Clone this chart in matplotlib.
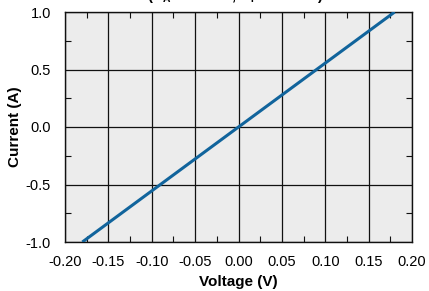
import matplotlib
matplotlib.use("Agg")
import matplotlib.pyplot as plt
from matplotlib.ticker import MultipleLocator, FormatStrFormatter

# data
voltage = [-0.18, 0.18]
current = [-1.0, 1.0]
x_ticks = [-0.20, -0.15, -0.10, -0.05, 0.00, 0.05, 0.10, 0.15, 0.20]
y_ticks = [-1.0, -0.5, 0.0, 0.5, 1.0]

plt.rcParams['font.family'] = ['Liberation Sans', 'DejaVu Sans']
plt.rcParams['mathtext.default'] = 'regular'

fig = plt.figure(figsize=(4.29, 2.91), dpi=100)
ax = fig.add_axes([65/429, 1 - 242/291, (412 - 65)/429, (242 - 12)/291])
ax.set_facecolor('#ececec')

ax.plot(voltage, current, color='#11649c', lw=2.2, solid_capstyle='butt', zorder=3)

ax.set_xlim(-0.20, 0.20)
ax.set_ylim(-1.0, 1.0)
ax.set_xticks(x_ticks)
ax.set_yticks(y_ticks)
ax.xaxis.set_major_formatter(FormatStrFormatter('%.2f'))
ax.yaxis.set_major_formatter(FormatStrFormatter('%.1f'))
ax.xaxis.set_minor_locator(MultipleLocator(0.025))
ax.yaxis.set_minor_locator(MultipleLocator(0.25))
ax.grid(True, which='major', color='#111111', lw=0.9)
ax.tick_params(which='both', direction='in', top=True, right=True, labelsize=10.5, color='#111111')
ax.tick_params(axis='x', which='major', length=0, pad=9)
ax.tick_params(axis='y', which='major', length=0, pad=10)
ax.tick_params(which='minor', length=4, width=0.8)
for s in ax.spines.values():
    s.set_color('#111111')
    s.set_linewidth(1.0)

ax.set_xlabel('Voltage (V)', fontsize=11, fontweight='bold', labelpad=5)
ax.set_ylabel('Current (A)', fontsize=11, fontweight='bold', labelpad=3)

# title is clipped by the top edge in the reference
fig.text(235/429, 1.0, r'(R$_A$ = 0.18 Ω, R$_F$ = 0.18 Ω)', ha='center', va='baseline',
         fontsize=10.5, fontweight='bold')

fig.savefig('out.png', dpi=100)
